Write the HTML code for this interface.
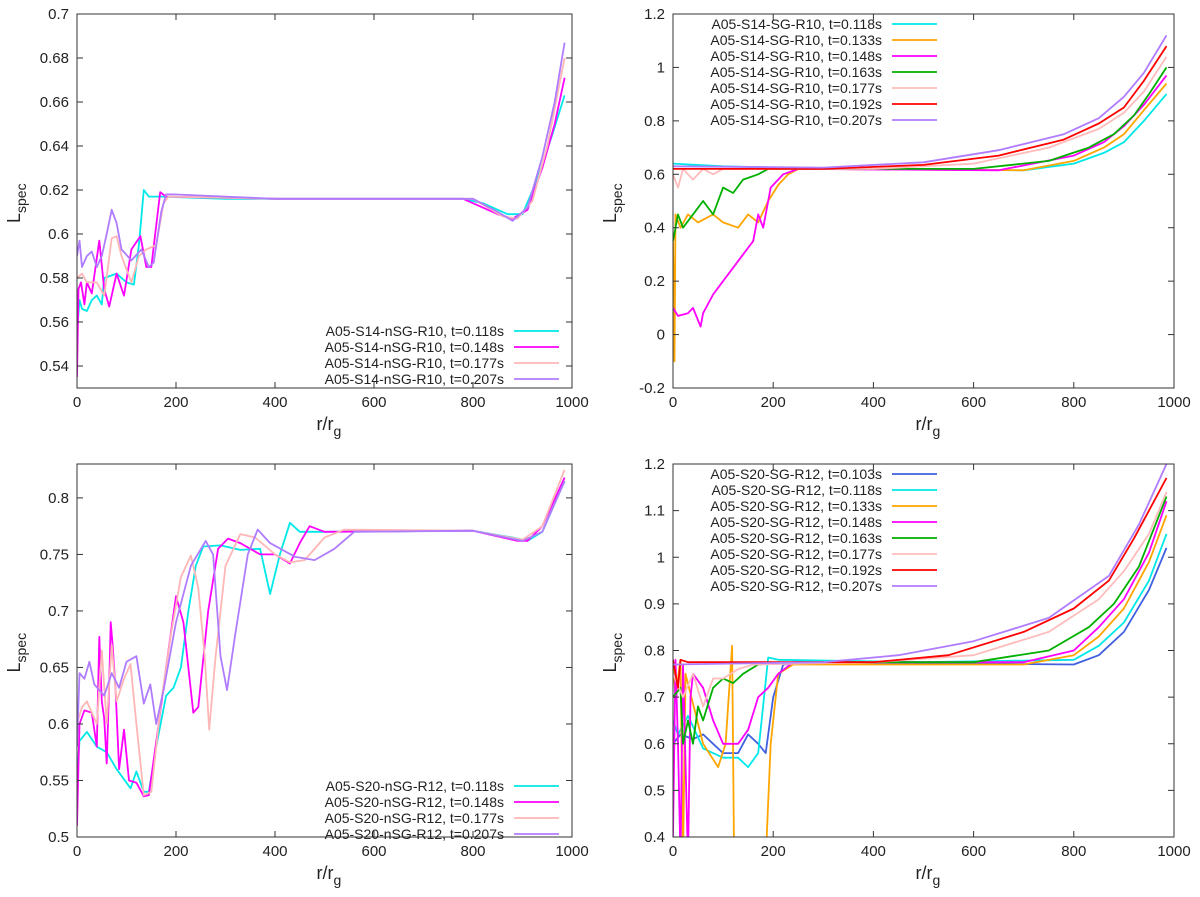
<!DOCTYPE html>
<html><head><meta charset="utf-8"><style>
body{margin:0;background:#fff}
svg{font-family:"Liberation Sans",sans-serif}
</style></head><body>
<svg id="c" width="1200" height="892" viewBox="0 0 1200 892"></svg>
<script>
const NS="http://www.w3.org/2000/svg";
// ---------- data ----------
const p1Labels=["A05-S14-nSG-R10, t=0.118s","A05-S14-nSG-R10, t=0.148s","A05-S14-nSG-R10, t=0.177s","A05-S14-nSG-R10, t=0.207s"];
const p1Colors=["#00e8e8","#ff00ff","#ffb6b6","#b07cff"];
const p1Series=[
[[0,0.555],[5,0.57],[10,0.566],[20,0.565],[30,0.57],[40,0.572],[50,0.568],[55,0.58],[80,0.582],[100,0.578],[115,0.577],[125,0.595],[135,0.62],[145,0.617],[170,0.617],[300,0.616],[600,0.616],[780,0.616],[820,0.614],[870,0.609],[900,0.609],[930,0.625],[960,0.645],[985,0.663]],
[[0,0.535],[3,0.575],[8,0.578],[15,0.568],[20,0.578],[30,0.573],[45,0.597],[55,0.575],[65,0.567],[80,0.582],[95,0.572],[110,0.593],[128,0.599],[140,0.585],[150,0.585],[158,0.6],[168,0.619],[180,0.617],[400,0.616],[780,0.616],[850,0.609],[880,0.607],[910,0.611],[940,0.63],[965,0.65],[985,0.671]],
[[0,0.58],[10,0.582],[20,0.578],[40,0.578],[55,0.572],[70,0.598],[80,0.599],[90,0.59],[110,0.578],[125,0.59],[140,0.593],[160,0.595],[175,0.614],[185,0.617],[400,0.616],[800,0.616],[860,0.608],[890,0.607],[920,0.615],[950,0.64],[985,0.68]],
[[0,0.59],[5,0.597],[10,0.585],[20,0.59],[30,0.592],[40,0.585],[50,0.59],[60,0.6],[70,0.611],[80,0.605],[90,0.593],[110,0.588],[130,0.593],[145,0.585],[155,0.587],[170,0.61],[180,0.618],[195,0.618],[400,0.616],[800,0.616],[850,0.61],[880,0.606],[910,0.612],[940,0.635],[965,0.66],[985,0.687]]];
const p1YTicks=[0.54,0.56,0.58,0.6,0.62,0.64,0.66,0.68,0.7];

const p2Labels=["A05-S14-SG-R10, t=0.118s","A05-S14-SG-R10, t=0.133s","A05-S14-SG-R10, t=0.148s","A05-S14-SG-R10, t=0.163s","A05-S14-SG-R10, t=0.177s","A05-S14-SG-R10, t=0.192s","A05-S14-SG-R10, t=0.207s"];
const p2Colors=["#00e8e8","#ffa500","#ff00ff","#00b000","#ffbcbc","#ff0000","#b07cff"];
const p2Series=[
[[0,0.64],[100,0.63],[300,0.62],[700,0.615],[800,0.64],[860,0.68],[900,0.72],[940,0.8],[985,0.9]],
[[0,0.35],[3,-0.1],[5,0.45],[15,0.4],[30,0.45],[50,0.42],[80,0.45],[100,0.42],[130,0.4],[150,0.45],[170,0.42],[190,0.5],[210,0.56],[230,0.6],[250,0.62],[700,0.615],[800,0.65],[860,0.7],[900,0.75],[940,0.84],[985,0.94]],
[[0,0.1],[10,0.07],[30,0.08],[40,0.1],[55,0.03],[60,0.08],[80,0.15],[100,0.2],[120,0.25],[140,0.3],[160,0.35],[170,0.45],[180,0.4],[195,0.55],[220,0.6],[250,0.62],[650,0.615],[800,0.67],[860,0.72],[900,0.78],[940,0.86],[985,0.97]],
[[0,0.35],[10,0.45],[20,0.4],[40,0.45],[60,0.5],[80,0.45],[100,0.55],[120,0.53],[140,0.58],[170,0.6],[190,0.62],[600,0.62],[750,0.65],[830,0.7],[880,0.75],[920,0.82],[950,0.9],[985,1.0]],
[[0,0.6],[10,0.55],[20,0.62],[40,0.58],[60,0.62],[80,0.6],[100,0.62],[400,0.62],[600,0.64],[750,0.7],[850,0.77],[900,0.83],[940,0.91],[985,1.04]],
[[0,0.62],[300,0.62],[500,0.635],[650,0.67],[780,0.73],[850,0.79],[900,0.85],[940,0.95],[985,1.08]],
[[0,0.63],[300,0.625],[500,0.645],[650,0.69],[780,0.75],[850,0.81],[900,0.89],[940,0.98],[985,1.12]]];
const p2YTicks=[-0.2,0,0.2,0.4,0.6,0.8,1,1.2];

const p3Labels=["A05-S20-nSG-R12, t=0.118s","A05-S20-nSG-R12, t=0.148s","A05-S20-nSG-R12, t=0.177s","A05-S20-nSG-R12, t=0.207s"];
const p3Series=[
[[0,0.55],[5,0.585],[20,0.593],[40,0.58],[60,0.575],[80,0.56],[100,0.548],[108,0.543],[120,0.558],[135,0.54],[145,0.54],[160,0.58],[180,0.625],[195,0.632],[210,0.65],[225,0.7],[240,0.74],[255,0.757],[290,0.758],[330,0.754],[370,0.755],[390,0.715],[410,0.75],[430,0.778],[450,0.77],[500,0.77],[800,0.771],[880,0.765],[910,0.762],[940,0.77],[985,0.815]],
[[0,0.51],[5,0.6],[15,0.612],[30,0.61],[40,0.58],[45,0.677],[50,0.62],[55,0.605],[60,0.565],[65,0.635],[68,0.69],[72,0.67],[78,0.63],[85,0.56],[95,0.595],[105,0.55],[120,0.548],[135,0.536],[145,0.537],[165,0.6],[180,0.65],[200,0.713],[215,0.69],[235,0.61],[245,0.615],[265,0.7],[285,0.755],[305,0.764],[330,0.76],[370,0.75],[400,0.75],[430,0.742],[450,0.76],[470,0.775],[500,0.77],[800,0.771],[890,0.762],[910,0.762],[940,0.775],[985,0.818]],
[[0,0.6],[10,0.615],[20,0.62],[40,0.6],[50,0.665],[60,0.6],[70,0.67],[80,0.62],[95,0.64],[108,0.653],[120,0.6],[135,0.537],[150,0.54],[170,0.62],[190,0.68],[210,0.73],[230,0.749],[245,0.72],[258,0.66],[267,0.595],[280,0.66],[300,0.74],[330,0.768],[360,0.765],[400,0.75],[430,0.743],[460,0.745],[500,0.765],[540,0.772],[800,0.771],[900,0.763],[940,0.775],[985,0.825]],
[[0,0.58],[5,0.645],[15,0.64],[25,0.655],[35,0.635],[55,0.625],[70,0.645],[85,0.632],[100,0.655],[120,0.66],[135,0.618],[148,0.635],[160,0.6],[175,0.63],[200,0.69],[230,0.74],[260,0.762],[275,0.75],[290,0.66],[303,0.63],[320,0.68],[345,0.75],[365,0.772],[390,0.76],[440,0.748],[480,0.745],[520,0.755],[560,0.77],[800,0.771],[900,0.762],[940,0.77],[985,0.815]]];
const p3YTicks=[0.5,0.55,0.6,0.65,0.7,0.75,0.8];

const p4Labels=["A05-S20-SG-R12, t=0.103s","A05-S20-SG-R12, t=0.118s","A05-S20-SG-R12, t=0.133s","A05-S20-SG-R12, t=0.148s","A05-S20-SG-R12, t=0.163s","A05-S20-SG-R12, t=0.177s","A05-S20-SG-R12, t=0.192s","A05-S20-SG-R12, t=0.207s"];
const p4Colors=["#4060e0","#00e8e8","#ffa500","#ff00ff","#00b000","#ffbcbc","#ff0000","#b07cff"];
const p4Series=[
[[0,0.6],[15,0.62],[40,0.61],[60,0.62],[80,0.6],[100,0.58],[130,0.58],[150,0.62],[170,0.6],[185,0.58],[200,0.7],[220,0.77],[300,0.775],[800,0.77],[850,0.79],[900,0.84],[950,0.93],[985,1.02]],
[[0,0.65],[10,0.62],[30,0.66],[60,0.59],[100,0.57],[130,0.57],[150,0.55],[170,0.58],[190,0.785],[210,0.78],[500,0.775],[800,0.78],[850,0.81],[900,0.86],[950,0.95],[985,1.05]],
[[0,0.78],[5,0.7],[15,0.78],[20,0.35],[25,0.75],[60,0.6],[90,0.55],[105,0.6],[118,0.81],[122,0.35],[185,0.35],[195,0.6],[210,0.75],[240,0.77],[700,0.77],[800,0.79],[850,0.83],[900,0.89],[950,0.99],[985,1.09]],
[[0,0.4],[5,0.78],[10,0.6],[15,0.35],[20,0.77],[30,0.35],[35,0.7],[40,0.75],[60,0.72],[80,0.65],[100,0.6],[130,0.6],[150,0.63],[170,0.7],[190,0.72],[210,0.75],[240,0.775],[700,0.775],[800,0.8],[850,0.85],[900,0.91],[950,1.01],[985,1.12]],
[[0,0.7],[15,0.72],[20,0.6],[30,0.65],[40,0.6],[50,0.68],[60,0.65],[80,0.72],[100,0.74],[120,0.73],[140,0.75],[170,0.77],[250,0.775],[600,0.775],[750,0.8],[830,0.85],[880,0.9],[930,0.98],[985,1.13]],
[[0,0.75],[20,0.7],[40,0.75],[60,0.68],[80,0.74],[100,0.74],[130,0.76],[160,0.77],[400,0.775],[600,0.79],[750,0.84],[850,0.91],[900,0.97],[950,1.05],[985,1.14]],
[[0,0.78],[10,0.72],[15,0.78],[30,0.775],[400,0.775],[550,0.79],[700,0.84],[800,0.89],[870,0.95],[920,1.04],[985,1.17]],
[[0,0.77],[300,0.775],[450,0.79],[600,0.82],[750,0.87],[870,0.96],[930,1.07],[985,1.2]]];
const p4YTicks=[0.4,0.5,0.6,0.7,0.8,0.9,1,1.1,1.2];
const xTicks=[0,200,400,600,800,1000];

// ---------- drawing ----------
const svg=document.getElementById('c');
function mk(tag,attrs,parent){const e=document.createElementNS(NS,tag);for(const k in attrs)e.setAttribute(k,attrs[k]);(parent||svg).appendChild(e);return e;}
let clipN=0;
function panel(o){
  const g=mk('g',{});
  
  
  const X=v=>o.x0+(v-0)/1000*(o.x1-o.x0);
  const Y=v=>o.y1-(v-o.ymin)/(o.ymax-o.ymin)*(o.y1-o.y0);
  const id='clip'+(clipN++);
  const cp=mk('clipPath',{id:id},g);mk('rect',{x:o.x0,y:o.y0,width:o.x1-o.x0,height:o.y1-o.y0},cp);
  // series
  o.series.forEach((s,i)=>{
    const p=mk('polyline',{points:s.map(d=>X(d[0]).toFixed(1)+','+Y(d[1]).toFixed(1)).join(' '),fill:'none',stroke:o.colors[i],'stroke-width':1.8,'stroke-linejoin':'round','clip-path':'url(#'+id+')'},g);
    
    
  });
  // frame
  const fr=mk('rect',{x:o.x0,y:o.y0,width:o.x1-o.x0,height:o.y1-o.y0,fill:'none',stroke:'#333','stroke-width':1},g);
  
  
  xTicks.forEach(t=>{
    const x=X(t);
    mk('line',{x1:x,x2:x,y1:o.y1,y2:o.y1-6,stroke:'#333'},g);
    mk('line',{x1:x,x2:x,y1:o.y0,y2:o.y0+6,stroke:'#333'},g);
    const tx=mk('text',{x:x,y:o.y1+19,'text-anchor':'middle','font-size':15,fill:'#222'},g);
    tx.textContent=t;
    
    
  });
  o.yticks.forEach(t=>{
    const y=Y(t);
    mk('line',{x1:o.x0,x2:o.x0+6,y1:y,y2:y,stroke:'#333'},g);
    mk('line',{x1:o.x1,x2:o.x1-6,y1:y,y2:y,stroke:'#333'},g);
    const tx=mk('text',{x:o.x0-8,y:y+5,'text-anchor':'end','font-size':15,fill:'#222'},g);
    tx.textContent=String(t);
    
    
  });
  const xl=mk('text',{x:(o.x0+o.x1)/2-8,y:o.y1+42,'font-size':18,fill:'#222'},g);
  xl.innerHTML='r/r<tspan dy="6" font-size="14">g</tspan>';
  
  
  const yc=(o.y0+o.y1)/2;
  const yl=mk('text',{x:0,y:0,'font-size':18,fill:'#222',transform:'translate('+(o.x0-57)+','+(yc+22)+') rotate(-90)'},g);
  yl.innerHTML='L<tspan dy="6" font-size="14">spec</tspan>';
  
  
  // legend
  o.labels.forEach((l,i)=>{
    const y=o.ly+i*16;
    const tx=mk('text',{x:o.lx,y:y+5,'text-anchor':'end','font-size':14,fill:'#222'},g);
    tx.textContent=l;
    
    
    const ln=mk('line',{x1:o.lx+10,x2:o.lx+55,y1:y,y2:y,stroke:o.colors[i],'stroke-width':1.8},g);
    
    
  });
}
panel({name:'panel-s14-nsg',x0:77,x1:572,y0:14,y1:388,ymin:0.53,ymax:0.7,series:p1Series,colors:p1Colors,labels:p1Labels,yticks:p1YTicks,lx:504,ly:331});
panel({name:'panel-s14-sg',x0:673,x1:1174,y0:14,y1:388,ymin:-0.2,ymax:1.2,series:p2Series,colors:p2Colors,labels:p2Labels,yticks:p2YTicks,lx:882,ly:24});
panel({name:'panel-s20-nsg',x0:77,x1:572,y0:464,y1:837,ymin:0.5,ymax:0.83,series:p3Series,colors:p1Colors,labels:p3Labels,yticks:p3YTicks,lx:504,ly:786});
panel({name:'panel-s20-sg',x0:673,x1:1174,y0:464,y1:837,ymin:0.4,ymax:1.2,series:p4Series,colors:p4Colors,labels:p4Labels,yticks:p4YTicks,lx:882,ly:474});
</script>
</body></html>
